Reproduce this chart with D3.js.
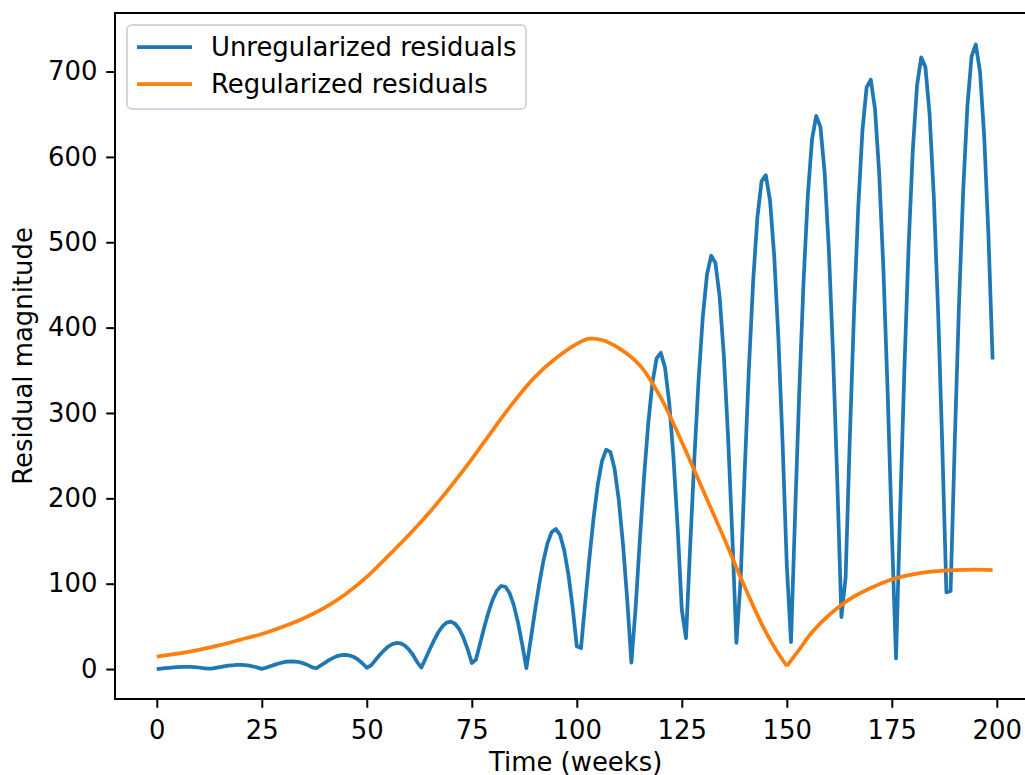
<!DOCTYPE html>
<html>
<head>
<script src="https://d3js.org/d3.v7.min.js"></script>
<style>
  body { margin: 0; background: #fff; }
  svg text { font-family: "DejaVu Sans", sans-serif; fill: #000; }
</style>
</head>
<body>
<script>
// weeks 0..199, one residual per week
const weeks = d3.range(0, 200);
const unregularized = [
  0, 0.5, 1.0, 1.5, 1.9, 2.3, 2.5, 2.6, 2.5, 2.3,
  1.8, 1.2, 0.5, 0.4, 1.3, 2.2, 3.1, 3.9, 4.4, 4.8,
  4.8, 4.5, 3.9, 3.0, 1.7, 0.2, 1.5, 3.2, 4.9, 6.5,
  7.7, 8.6, 9.0, 8.8, 8.0, 6.6, 4.6, 2.0, 0.9, 4.1,
  7.3, 10.4, 13.1, 15.2, 16.4, 16.7, 15.8, 13.9, 10.7, 6.5,
  1.5, 4.2, 10.2, 16.1, 21.4, 25.9, 29.1, 30.6, 30.2, 27.7,
  23.1, 16.5, 8.1, 1.7, 12.4, 23.3, 33.6, 42.8, 49.9, 54.3,
  55.5, 53.1, 46.9, 36.9, 23.4, 7.1, 11.2, 30.5, 49.5, 67.1,
  81.6, 92.1, 97.3, 96.4, 89.0, 74.9, 54.6, 28.9, 1.1, 33.6,
  66.7, 98.1, 125.5, 146.9, 160.3, 164.1, 157.2, 139.4, 110.8, 72.6,
  26.7, 24.5, 77.8, 130.0, 177.3, 216.3, 243.7, 257.0, 254.2, 234.5,
  198.0, 146.2, 81.5, 7.5, 71.4, 150.4, 224.1, 287.3, 335.3, 364.0,
  370.5, 353.2, 312.4, 249.0, 166.6, 69.6, 36.2, 144.3, 247.6, 339.2,
  412.6, 462.3, 484.2, 475.9, 436.5, 368.2, 273.8, 159.0, 30.7, 103.5,
  234.8, 354.7, 455.2, 529.4, 571.7, 578.6, 549.1, 484.2, 387.2, 263.9,
  121.3, 31.5, 184.9, 329.3, 455.2, 554.5, 620.3, 648.0, 635.2, 582.4,
  492.2, 370.4, 223.3, 60.9, 107.1, 270.0, 417.6, 540.2, 630.3, 681.4,
  690.4, 656.2, 580.7, 468.1, 326.0, 162.3, 12.5, 187.5, 351.8, 495.0,
  607.9, 683.5, 716.7, 705.3, 649.8, 553.6, 422.4, 264.8, 89.7, 91.4,
  267.4, 427.3, 560.9, 659.8, 718.1, 731.7, 699.8, 624.0, 509.4, 362.7
];
// regularized curve is smooth, read at fewer weeks (sharp dip at week 150)
const regWeeks = [0, 5, 10, 15, 20, 25, 30, 35, 40, 45, 50, 55, 60, 65, 70, 75, 80, 85, 90, 95,
  100, 103, 106, 110, 115, 120, 125, 130, 135, 140, 144, 147, 150,
  153, 156, 160, 165, 170, 175, 180, 185, 190, 195, 199];
const regularized = [14.5, 18, 22.5, 28, 34.5, 41, 49.5, 59.5, 72, 88, 108, 132, 157, 184, 214, 246, 280, 313, 342, 364,
  381, 387, 385.5, 376, 356, 318, 266, 210, 154, 96, 53, 26, 3.5,
  23, 43, 63, 82, 95, 105, 111, 114.5, 116, 116.5, 116];
const dipWeek = 150;
const seriesNames = ["Unregularized residuals", "Regularized residuals"];
const colors = ["#1f77b4", "#ff7f0e"];
const xTicks = [0, 25, 50, 75, 100, 125, 150, 175, 200];
const yTicks = [0, 100, 200, 300, 400, 500, 600, 700];

const width = 1025, height = 775;
const plotLeft = 115, plotRight = 1034.4, plotTop = 13, plotBottom = 699;
const fs = 25.9;

let svg = d3.select("body").append("svg")
    .attr("width", width).attr("height", height);

let x = d3.scaleLinear().domain([-9.95, 208.95]).range([plotLeft, plotRight]);
let y = d3.scaleLinear().domain([-35.1, 768.6]).range([plotBottom, plotTop]);

// axes
let xAxis = svg.append("g").attr("transform", "translate(0," + plotBottom + ")")
    .call(d3.axisBottom(x).tickValues(xTicks).tickSize(8.75).tickPadding(12.5).tickFormat(d3.format("d")));
let yAxis = svg.append("g").attr("transform", "translate(" + plotLeft + ",0)")
    .call(d3.axisLeft(y).tickValues(yTicks).tickSize(8.75).tickPadding(8.75).tickFormat(d3.format("d")));
[xAxis, yAxis].forEach(function(g) {
    g.select(".domain").remove();
    g.attr("font-family", null).attr("font-size", null);
    g.selectAll(".tick line").attr("stroke", "#000").attr("stroke-width", 2);
    g.selectAll(".tick text").style("font-size", fs + "px");
});

// lines
let line = d3.line().x(d => x(d[0])).y(d => y(d[1]));
svg.append("path").datum(d3.zip(weeks, unregularized))
    .attr("d", line).attr("fill", "none").attr("stroke", colors[0])
    .attr("stroke-width", 3.75).attr("stroke-linejoin", "round");

// regularized: two smooth pieces meeting at the dip so the V stays sharp
let regPts = d3.zip(regWeeks, regularized);
let pieces = [regPts.filter(d => d[0] <= dipWeek), regPts.filter(d => d[0] >= dipWeek)];
let curve = d3.line().x(d => x(d[0])).y(d => y(d[1])).curve(d3.curveCatmullRom.alpha(0.5));
svg.append("path")
    .attr("d", pieces.map(p => curve(p)).join(""))
    .attr("fill", "none").attr("stroke", colors[1])
    .attr("stroke-width", 3.75).attr("stroke-linejoin", "round");

// spines
let spines = [[plotLeft, plotTop, plotLeft, plotBottom], [plotLeft, plotBottom, plotRight, plotBottom],
              [plotLeft, plotTop, plotRight, plotTop], [plotRight, plotTop, plotRight, plotBottom]];
svg.selectAll(".spine").data(spines).enter().append("line")
    .attr("x1", d => d[0]).attr("y1", d => d[1]).attr("x2", d => d[2]).attr("y2", d => d[3])
    .attr("stroke", "#000").attr("stroke-width", 2).attr("stroke-linecap", "square");

// legend
let legend = svg.append("g");
legend.append("rect").attr("x", 127).attr("y", 25).attr("width", 399).attr("height", 84)
    .attr("rx", 5).attr("fill", "#fff").attr("fill-opacity", 0.8)
    .attr("stroke", "#d6d6d6").attr("stroke-width", 2);
seriesNames.forEach(function(name, i) {
    let ly = 47 + i * 37;
    legend.append("line").attr("x1", 137).attr("x2", 192).attr("y1", ly).attr("y2", ly)
        .attr("stroke", colors[i]).attr("stroke-width", 3.75);
    legend.append("text").attr("x", 211).attr("y", ly + 9)
        .style("font-size", fs + "px").text(name);
});

// axis labels
svg.append("text").attr("x", (plotLeft + plotRight) / 2 + 1).attr("y", 771)
    .attr("text-anchor", "middle").style("font-size", fs + "px").text("Time (weeks)");
svg.append("text").attr("transform", "translate(32," + (plotTop + plotBottom) / 2 + ") rotate(-90)")
    .attr("text-anchor", "middle").style("font-size", fs + "px").text("Residual magnitude");
</script>
</body>
</html>
